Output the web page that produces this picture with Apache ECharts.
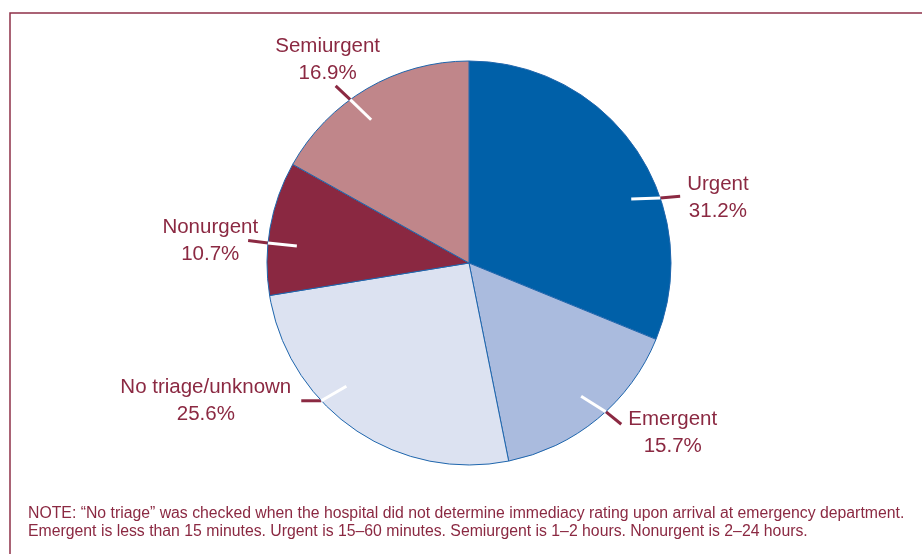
<!DOCTYPE html>
<html>
<head>
<meta charset="utf-8">
<script src="https://cdn.jsdelivr.net/npm/echarts@6/dist/echarts.min.js"></script>
<style>
html,body{margin:0;padding:0;background:#fff;}
#chart{width:922px;height:554px;}
</style>
</head>
<body>
<div id="chart"></div>
<script>
const categories = ['Urgent', 'Emergent', 'No triage/unknown', 'Nonurgent', 'Semiurgent'];
const values = [31.2, 15.7, 25.6, 10.7, 16.9];
const colors = ['#0060A8', '#AABBDE', '#DCE2F1', '#8A2841', '#C0868A'];
const noteLines = [
  'NOTE: \u201cNo triage\u201d was checked when the hospital did not determine immediacy rating upon arrival at emergency department.',
  'Emergent is less than 15 minutes. Urgent is 15\u201360 minutes. Semiurgent is 1\u20132 hours. Nonurgent is 2\u201324 hours.'
];

// ---- layout / style configuration (not data) ----
const CX = 469, CY = 263, R = 202;
const textColor = '#8B2942';
// rim: angle (deg, clockwise from 12 o'clock) where the leader meets the pie edge
// out: direction of the outer (red) leader, in screen degrees; inDir: direction of the inner (white) leader
// lab: label anchor relative to the outer end of the leader
const leaders = [
  { rim: 71.2,  out: -5,  inDir: 178, lab: { dx: 7,   dy: 2,  align: 'left',   va: 'middle' } },
  { rim: 137.4, out: 39,  inDir: 212, lab: { dx: 7,   dy: 9,  align: 'left',   va: 'middle' } },
  { rim: 227.0, out: 180, inDir: -30, lab: { dx: -10, dy: 0,  align: 'right',  va: 'middle' } },
  { rim: 275.7, out: 187, inDir: 6,   lab: { dx: 10,  dy: 0,  align: 'right',  va: 'middle' } },
  { rim: 324.0, out: 223, inDir: 44,  lab: { dx: -8,  dy: 1,  align: 'center', va: 'bottom' } }
];
const OUT_LEN = 20, IN_LEN = 29;

function rimPoint(i) {
  const a = leaders[i].rim * Math.PI / 180;
  return [CX + R * Math.sin(a), CY - R * Math.cos(a)];
}
function along(p, deg, len) {
  const a = deg * Math.PI / 180;
  return [p[0] + len * Math.cos(a), p[1] + len * Math.sin(a)];
}

const data = categories.map((c, i) => ({ name: c, value: values[i], itemStyle: { color: colors[i] } }));
const ghost = categories.map((c, i) => ({ name: c, value: values[i] }));

const chart = echarts.init(document.getElementById('chart'), null, { renderer: 'canvas' });
chart.setOption({
  animation: false,
  backgroundColor: '#ffffff',
  graphic: [{
    type: 'rect',
    shape: { x: 10, y: 13, width: 940, height: 560 },
    style: { fill: 'none', stroke: '#8E3048', lineWidth: 1.5 },
    silent: true
  }],
  title: {
    text: noteLines.join('\n'),
    left: 28,
    top: 505,
    padding: 0,
    textStyle: { fontFamily: 'Liberation Sans', fontSize: 15.8, fontWeight: 'normal', color: textColor, lineHeight: 18 }
  },
  series: [{
    type: 'pie',
    center: [CX, CY],
    radius: [0, R],
    startAngle: 90,
    clockwise: true,
    avoidLabelOverlap: false,
    z: 2,
    itemStyle: { borderColor: '#1F66AD', borderWidth: 1 },
    label: {
      show: true,
      position: 'outside',
      formatter: p => '{a|' + p.name + '}\n{a|' + p.value.toFixed(1) + '%}',
      rich: { a: { align: 'center', fontFamily: 'Liberation Sans', fontSize: 20.5, color: textColor, lineHeight: 27 } }
    },
    labelLine: { show: true, length: 20, length2: 0, smooth: false, lineStyle: { color: textColor, width: 3 } },
    labelLayout: function (p) {
      const L = leaders[p.dataIndex];
      const rim = rimPoint(p.dataIndex);
      const end = along(rim, L.out, OUT_LEN);
      return {
        x: end[0] + L.lab.dx,
        y: end[1] + L.lab.dy,
        align: L.lab.align,
        verticalAlign: L.lab.va,
        labelLinePoints: [rim, end]
      };
    },
    emphasis: { disabled: true },
    data: data
  }, {
    type: 'pie',
    center: [CX, CY],
    radius: [0, R - 30],
    startAngle: 90,
    clockwise: true,
    silent: true,
    avoidLabelOverlap: false,
    z: 5,
    itemStyle: { color: 'rgba(0,0,0,0)', borderWidth: 0 },
    label: { show: true, position: 'outside', formatter: '{b}', color: 'rgba(0,0,0,0)', fontSize: 2 },
    labelLine: { show: true, length: 20, length2: 0, lineStyle: { color: '#ffffff', width: 3 } },
    labelLayout: function (p) {
      const L = leaders[p.dataIndex];
      const rim = rimPoint(p.dataIndex);
      const inner = along(rim, L.inDir, IN_LEN);
      return { labelLinePoints: [inner, rim] };
    },
    emphasis: { disabled: true },
    data: ghost
  }]
});
</script>
</body>
</html>
